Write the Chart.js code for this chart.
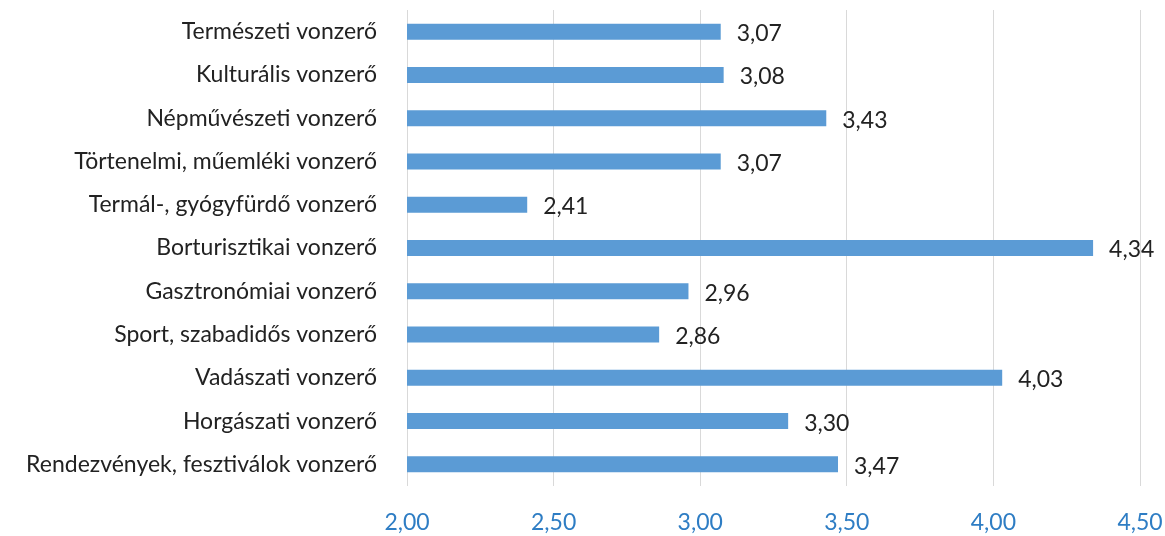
<!DOCTYPE html>
<html>
<head>
<meta charset="utf-8">
<script src="https://cdn.jsdelivr.net/npm/chart.js@4"></script>
<style>
  html, body { margin: 0; padding: 0; background: #fff; }
  #wrap { width: 1165px; height: 536px; }
</style>
</head>
<body>
<div id="wrap"><canvas id="mycanvas"></canvas></div>
<script>
var categories = [
  "Természeti vonzerő",
  "Kulturális vonzerő",
  "Népművészeti vonzerő",
  "Törtenelmi, műemléki vonzerő",
  "Termál-, gyógyfürdő vonzerő",
  "Borturisztikai vonzerő",
  "Gasztronómiai vonzerő",
  "Sport, szabadidős vonzerő",
  "Vadászati vonzerő",
  "Horgászati vonzerő",
  "Rendezvények, fesztiválok vonzerő"
];
var scores = [3.07, 3.08, 3.43, 3.07, 2.41, 4.34, 2.96, 2.86, 4.03, 3.30, 3.47];
var xMin = 2.0, xMax = 4.5, xStep = 0.5;

var FONT = "Lato, 'Open Sans', sans-serif";

function fmt(v) {
  return v.toFixed(2).replace(".", ",");
}

// numbers next to the bars
var valueLabels = {
  id: "valueLabels",
  afterDatasetsDraw: function(chart) {
    var ctx = chart.ctx;
    var meta = chart.getDatasetMeta(0);
    ctx.save();
    ctx.fillStyle = "#222";
    ctx.font = "23px " + FONT;
    ctx.textAlign = "left";
    ctx.textBaseline = "middle";
    meta.data.forEach(function(bar, i) {
      ctx.fillText(fmt(scores[i]), bar.x + 16, bar.y + 2);
    });
    ctx.restore();
  }
};

var ctx = document.getElementById("mycanvas");
var chart = new Chart(ctx, {
  type: "bar",
  data: {
    labels: categories,
    datasets: [{
      data: scores,
      backgroundColor: "#5b9bd5",
      borderWidth: 0,
      barPercentage: 0.37,
      categoryPercentage: 1.0
    }]
  },
  options: {
    indexAxis: "y",
    responsive: true,
    maintainAspectRatio: false,
    animation: false,
    layout: { padding: { top: 10, right: 25, left: 0, bottom: 0 } },
    plugins: {
      legend: { display: false },
      tooltip: { enabled: false }
    },
    scales: {
      x: {
        min: xMin,
        max: xMax,
        grid: { color: "#d9d9d9", lineWidth: 1, drawTicks: false },
        border: { display: false },
        ticks: {
          stepSize: xStep,
          color: "#2e7dc4",
          font: { family: FONT, size: 23 },
          padding: 23,
          callback: function(v) { return fmt(v); }
        },
        afterFit: function(scale) {
          scale.height = 50;
          scale.paddingLeft = 0;
          scale.paddingRight = 0;
        }
      },
      y: {
        grid: { display: false },
        border: { display: false },
        ticks: {
          color: "#222",
          font: { family: FONT, size: 23 },
          padding: 22,
          autoSkip: false
        },
        afterFit: function(scale) {
          scale.width = 407;
          scale.paddingTop = 0;
          scale.paddingBottom = 0;
        }
      }
    }
  },
  plugins: [valueLabels]
});
</script>
</body>
</html>
